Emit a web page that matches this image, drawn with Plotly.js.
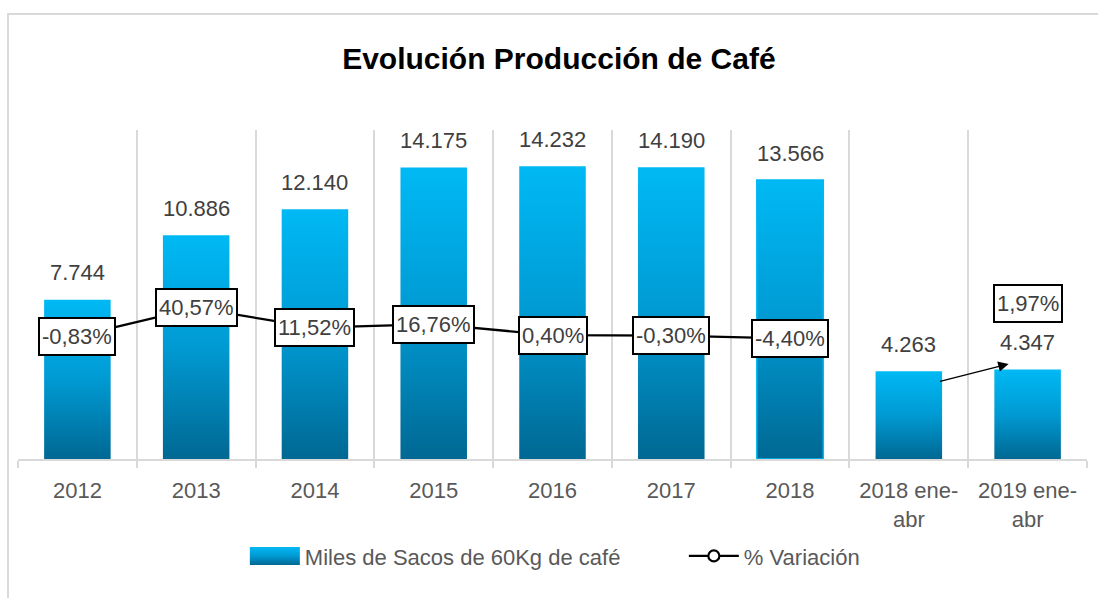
<!DOCTYPE html>
<html>
<head>
<meta charset="utf-8">
<script src="https://cdn.plot.ly/plotly-3.0.1.min.js"></script>
<style>
  html, body { margin: 0; padding: 0; background: #fff; }
  #frame { position: absolute; left: 7px; top: 13px; width: 1100px; height: 600px; border: 2px solid #d9d9d9; box-sizing: border-box; }
  #chart { position: absolute; left: 0; top: 0; width: 1098px; height: 598px; }
</style>
</head>
<body>
<div id="frame"></div>
<div id="chart"></div>
<script>
// ---- data ----
const categories = ['2012', '2013', '2014', '2015', '2016', '2017', '2018', '2018 ene-abr', '2019 ene-abr'];
const tickLabels = ['2012', '2013', '2014', '2015', '2016', '2017', '2018', '2018 ene-<br>abr', '2019 ene-<br>abr'];
const production = [7744, 10886, 12140, 14175, 14232, 14190, 13566, 4263, 4347];
const variationCats = ['2012', '2013', '2014', '2015', '2016', '2017', '2018'];
const variation = [-0.83, 40.57, 11.52, 16.76, 0.40, -0.30, -4.40];
const periodVariation = 1.97;
const barName = 'Miles de Sacos de 60Kg de café';
const lineName = '% Variación';

const FONT = '"Liberation Sans", Arial, sans-serif';
const fmtThousands = v => String(v).replace(/\B(?=(\d{3})+(?!\d))/g, '.');
const fmtPct = v => v.toFixed(2).replace('.', ',') + '%';

const barTrace = {
  type: 'bar', x: categories, y: production, name: barName,
  width: 0.56,
  marker: { color: '#0098D0', line: { color: '#00B8F2', width: [0,0,0,0,0,0,1.5,0,0] } },
  hoverinfo: 'skip'
};
const lineTrace = {
  type: 'scatter', mode: 'lines+markers', x: variationCats, y: variation, yaxis: 'y2', name: lineName,
  line: { color: '#000', width: 2.3 },
  marker: { symbol: 'circle', size: 11, color: '#fff', line: { color: '#000', width: 2.2 } },
  hoverinfo: 'skip'
};

const annotations = [];
production.forEach((v, i) => {
  annotations.push({
    x: i, y: v, xref: 'x', yref: 'y', text: fmtThousands(v), showarrow: false,
    yanchor: 'middle', yshift: 27, font: { family: FONT, size: 22, color: '#404040' }
  });
});
variation.forEach((v, i) => {
  annotations.push({
    x: i, y: v, xref: 'x', yref: 'y2', text: fmtPct(v), showarrow: false,
    bgcolor: '#fff', bordercolor: '#000', borderwidth: 2, borderpad: 2, height: 31,
    font: { family: FONT, size: 22, color: '#404040' }
  });
});
// period-on-period label above the last bar
annotations.push({
  x: 8, y: production[8], xref: 'x', yref: 'y', text: fmtPct(periodVariation), showarrow: false,
  yshift: 66, bgcolor: '#fff', bordercolor: '#000', borderwidth: 2, borderpad: 2, height: 31,
  font: { family: FONT, size: 22, color: '#404040' }
});
// arrow between the two partial-year bars
annotations.push({
  x: 8 - 0.16, y: production[8] * 1.064, xref: 'x', yref: 'y',
  ax: 7 + 0.25, ay: production[7] * 0.88, axref: 'x', ayref: 'y',
  text: '', showarrow: true, arrowhead: 2, arrowsize: 1.6, arrowwidth: 1.3, arrowcolor: '#000', standoff: 0
});

const layout = {
  width: 1098, height: 598,
  margin: { l: 18, r: 11, t: 130, b: 139 },
  paper_bgcolor: 'rgba(0,0,0,0)', plot_bgcolor: 'rgba(0,0,0,0)',
  title: {
    text: '<b>Evolución Producción de Café</b>', x: 0.509, xref: 'container', xanchor: 'center',
    y: 0.903, yref: 'container', yanchor: 'middle',
    font: { family: FONT, size: 30, color: '#000' }
  },
  showlegend: true,
  legend: {
    orientation: 'h', x: 0.223, xref: 'container', xanchor: 'left', y: 0.07, yref: 'container', yanchor: 'middle',
    font: { family: FONT, size: 22, color: '#595959' }, itemwidth: 50, traceorder: 'normal',
    entrywidth: 374, entrywidthmode: 'pixels'
  },
  xaxis: {
    type: 'category', range: [-0.5, 8.5], tickmode: 'array', tickvals: categories, ticktext: tickLabels,
    tickangle: 0, ticklabelstandoff: 11,
    tickson: 'boundaries', ticks: 'outside', ticklen: 7, tickcolor: '#d9d9d9', tickwidth: 2,
    showgrid: true, gridcolor: '#d9d9d9', gridwidth: 2,
    showline: true, linecolor: '#d9d9d9', linewidth: 2,
    tickfont: { family: FONT, size: 22, color: '#595959' }, fixedrange: true
  },
  yaxis: {
    range: [0, 16000], showgrid: false, zeroline: false, showticklabels: false, showline: false, ticks: '', fixedrange: true
  },
  yaxis2: {
    overlaying: 'y', side: 'right', range: [-182.2, 303.1], showgrid: false, zeroline: false,
    showticklabels: false, showline: false, ticks: '', fixedrange: true
  },
  annotations: annotations
};

Plotly.newPlot('chart', [barTrace, lineTrace], layout, { staticPlot: true, displayModeBar: false }).then(gd => {
  const svg = gd.querySelector('svg.main-svg');
  const defs = svg.querySelector('defs');
  const ns = 'http://www.w3.org/2000/svg';
  const grad = document.createElementNS(ns, 'linearGradient');
  grad.setAttribute('id', 'barGrad');
  grad.setAttribute('x1', '0'); grad.setAttribute('y1', '0');
  grad.setAttribute('x2', '0'); grad.setAttribute('y2', '1');
  [['0', '#00B9F4'], ['0.5', '#009AD3'], ['1', '#006893']].forEach(([o, c]) => {
    const s = document.createElementNS(ns, 'stop');
    s.setAttribute('offset', o); s.setAttribute('stop-color', c);
    grad.appendChild(s);
  });
  defs.appendChild(grad);
  gd.querySelectorAll('.barlayer .point path').forEach(p => { p.style.fill = 'url(#barGrad)'; });
  gd.querySelectorAll('.legend .traces').forEach((t, i) => {
    const bp = t.querySelector('.legendpoints path');
    if (i === 0 && bp) {
      bp.setAttribute('d', 'M-25,9H25V-9H-25Z');
      bp.style.fill = 'url(#barGrad)';
      bp.style.stroke = 'none';
      bp.setAttribute('transform', 'translate(30,0)');
    }
  });
});
</script>
</body>
</html>
